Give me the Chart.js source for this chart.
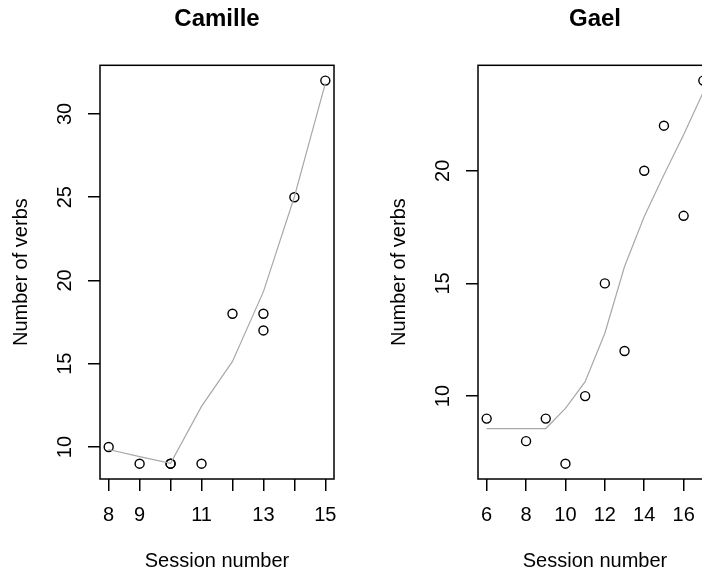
<!DOCTYPE html>
<html>
<head>
<meta charset="utf-8">
<script src="https://cdn.jsdelivr.net/npm/chart.js@4/dist/chart.umd.min.js"></script>
<style>
  html, body { margin: 0; padding: 0; background: #fff; }
  body { width: 702px; height: 572px; overflow: hidden; position: relative; }
  canvas { position: absolute; top: 0; }
  #camille { left: 0; }
  #gael { left: 378px; }
</style>
</head>
<body>
<canvas id="camille" width="351" height="572"></canvas>
<canvas id="gael" width="351" height="572"></canvas>
<script>
// Camille: observed verbs per session + smoothed curve
const camilleSessions = [8, 9, 10, 10, 11, 12, 13, 13, 14, 15];
const camilleVerbs = [10, 9, 9, 9, 9, 18, 18, 17, 25, 32];
const camilleFitSessions = [8, 9, 10, 11, 12, 13, 14, 15];
const camilleFit = [9.85, 9.42, 9.02, 12.44, 15.14, 19.33, 25.03, 31.84];
const camilleXTicks = [8, 9, 10, 11, 12, 13, 14, 15];
const camilleXLabels = [8, 9, 11, 13, 15];
const camilleYTicks = [10, 15, 20, 25, 30];

// Gael
const gaelSessions = [6, 8, 9, 10, 11, 12, 13, 14, 15, 16, 17];
const gaelVerbs = [9, 8, 9, 7, 10, 15, 12, 20, 22, 18, 24];
const gaelFitSessions = [6, 8, 9, 10, 11, 12, 13, 14, 15, 16, 17];
const gaelFit = [8.56, 8.56, 8.56, 9.45, 10.64, 12.79, 15.75, 17.97, 19.82, 21.6, 23.5];
const gaelXTicks = [6, 8, 10, 12, 14, 16];
const gaelXLabels = [6, 8, 10, 12, 14, 16];
const gaelYTicks = [10, 15, 20];

Chart.defaults.font.family = '"Liberation Sans", Arial, Helvetica, sans-serif';
Chart.defaults.font.size = 20;
Chart.defaults.color = '#000';

const boxPlugin = {
    id: 'box',
    afterDraw(chart) {
        const { ctx, chartArea: a } = chart;
        ctx.save();
        ctx.strokeStyle = '#000';
        ctx.lineWidth = 1.5;
        ctx.strokeRect(a.left, a.top, a.right - a.left, a.bottom - a.top);
        ctx.restore();
    }
};

// R-style limits: data range plus 4% on each side
function limits(values) {
    const lo = Math.min(...values), hi = Math.max(...values);
    const pad = (hi - lo) * 0.04;
    return { min: lo - pad, max: hi + pad };
}

function buildChart(id, title, xs, ys, fitXs, fitYs, xTicks, xLabels, yTicks) {
    const xl = limits(xs), yl = limits(ys);
    return new Chart(document.getElementById(id), {
        type: 'scatter',
        data: {
            datasets: [
                {
                    data: fitXs.map((x, i) => ({ x: x, y: fitYs[i] })),
                    showLine: true,
                    borderColor: '#a8a8a8',
                    borderWidth: 1.2,
                    pointRadius: 0,
                    tension: 0
                },
                {
                    data: xs.map((x, i) => ({ x: x, y: ys[i] })),
                    pointStyle: 'circle',
                    pointRadius: 4.5,
                    pointBorderWidth: 1.4,
                    pointBorderColor: '#000',
                    pointBackgroundColor: 'rgba(0,0,0,0)'
                }
            ]
        },
        options: {
            responsive: false,
            animation: false,
            events: [],
            layout: { padding: { right: 17 } },
            plugins: {
                legend: { display: false },
                tooltip: { enabled: false },
                title: {
                    display: true,
                    text: title,
                    fullSize: false,
                    font: { size: 24, weight: 'bold' },
                    padding: { top: 5, bottom: 31.5 }
                }
            },
            scales: {
                x: {
                    type: 'linear',
                    min: xl.min,
                    max: xl.max,
                    afterBuildTicks: s => { s.ticks = xTicks.map(v => ({ value: v })); },
                    afterFit: s => { s.height = 93; },
                    ticks: {
                        autoSkip: false,
                        maxRotation: 0,
                        padding: 12.5,
                        callback: v => xLabels.includes(v) ? String(v) : ''
                    },
                    grid: { drawOnChartArea: false, tickLength: 12, color: '#000', lineWidth: 1.5 },
                    border: { display: false },
                    title: { display: true, text: 'Session number', padding: { top: 0, bottom: -1 } }
                },
                y: {
                    type: 'linear',
                    min: yl.min,
                    max: yl.max,
                    afterBuildTicks: s => { s.ticks = yTicks.map(v => ({ value: v })); },
                    afterFit: s => { s.width = 100; },
                    ticks: {
                        autoSkip: false,
                        minRotation: 90,
                        maxRotation: 90,
                        crossAlign: 'center',
                        padding: 11
                    },
                    grid: { drawOnChartArea: false, tickLength: 12, color: '#000', lineWidth: 1.5 },
                    border: { display: false },
                    title: { display: true, text: 'Number of verbs', padding: { top: 9, bottom: 0 } }
                }
            }
        },
        plugins: [boxPlugin]
    });
}

buildChart('camille', 'Camille', camilleSessions, camilleVerbs, camilleFitSessions, camilleFit,
    camilleXTicks, camilleXLabels, camilleYTicks);
buildChart('gael', 'Gael', gaelSessions, gaelVerbs, gaelFitSessions, gaelFit,
    gaelXTicks, gaelXLabels, gaelYTicks);
</script>
</body>
</html>
